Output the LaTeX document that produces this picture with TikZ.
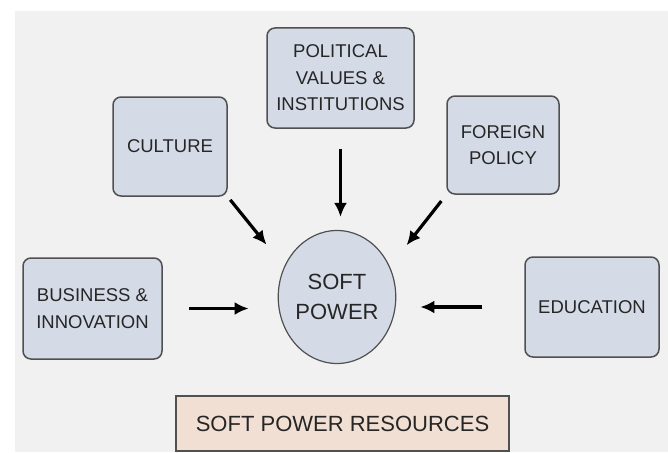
\documentclass[tikz,border=0pt]{standalone}
\usepackage{fontspec}
\setmainfont{Liberation Sans}
\usetikzlibrary{arrows.meta,positioning,shapes.geometric}
\definecolor{pagegrey}{HTML}{F1F1F1}
\definecolor{boxfill}{HTML}{D5DBE6}
\definecolor{resfill}{HTML}{F2DFD3}
\definecolor{edgegrey}{HTML}{505050}
\definecolor{textgrey}{HTML}{262626}
\tikzset{
  resbox/.style={draw=edgegrey,line width=1.5pt,rounded corners=8pt,fill=boxfill,align=center,
    text=textgrey,font=\fontsize{18.5}{26.5}\selectfont,inner sep=2pt},
  powerhub/.style={draw=edgegrey,line width=1.2pt,ellipse,fill=boxfill,align=center,
    text=textgrey,font=\fontsize{22}{30}\selectfont,inner sep=0pt},
  feed/.style={line width=3.2pt,-{Latex[length=14pt,width=13pt]}}
}
\begin{document}
\begin{tikzpicture}[x=1pt,y=-1pt]
\useasboundingbox (0,0) rectangle (668,452);
\fill[pagegrey] (15,11) rectangle (668,452);
\node[resbox,minimum width=147pt,minimum height=100pt] (pol) at (340.5,78) {POLITICAL\\VALUES \&\\INSTITUTIONS};
\node[resbox,minimum width=114pt,minimum height=99pt] (cul) at (170,146.5) {CULTURE};
\node[resbox,minimum width=112pt,minimum height=98pt] (for) at (503,145) {FOREIGN\\POLICY};
\node[resbox,minimum width=139pt,minimum height=101pt] (bus) at (92.5,308.5) {BUSINESS \&\\INNOVATION};
\node[resbox,minimum width=134pt,minimum height=100pt] (edu) at (592,307) {EDUCATION};
\node[powerhub,minimum width=112pt,minimum height=133pt] (soft) at (337,297) {SOFT\\POWER};
\node[draw=edgegrey,line width=1.5pt,fill=resfill,text=textgrey,font=\fontsize{22}{26}\selectfont,
  minimum width=333pt,minimum height=55pt] (res) at (342.5,423.5) {SOFT POWER RESOURCES};
\draw[feed,shorten <=20pt,shorten >=13pt] (pol.south) -- (pol.south |- soft.north);
\draw[feed,shorten <=4pt,shorten >=28pt] (cul.south east) -- (soft.150);
\draw[feed,shorten <=8pt,shorten >=27pt] (for.south west) -- (soft.30);
\draw[feed,shorten <=26pt,shorten >=29pt] (bus.east) -- (bus.east -| soft.west);
\draw[feed,shorten <=42pt,shorten >=24pt] (edu.west) -- (edu.west -| soft.east);
\end{tikzpicture}
\end{document}
